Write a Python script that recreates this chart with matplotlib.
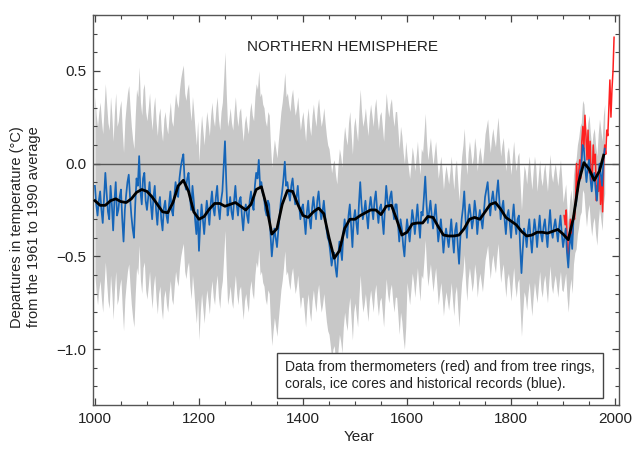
import numpy as np
import matplotlib
matplotlib.use('Agg')
import matplotlib.pyplot as plt
from matplotlib.patches import Rectangle
from matplotlib.ticker import MultipleLocator

plt.rcParams['font.family'] = ['Liberation Sans', 'DejaVu Sans']

# Proxy reconstruction (blue), read at 1000, 1005, ... 1980
proxy_years = np.arange(1000, 1981, 5)
proxy_values = [
    -0.12, -0.28, -0.15, -0.32, -0.05, -0.26, -0.12, -0.36, -0.10, -0.25,
    -0.14, -0.42, -0.17, -0.06, -0.28, -0.40, -0.08, 0.04, -0.22, -0.05,
    -0.25, -0.10, -0.30, -0.12, -0.33, -0.18, -0.36, -0.20, -0.32, -0.15,
    -0.28, -0.10, -0.18, -0.02, 0.05, -0.14, -0.05, -0.25, -0.20, -0.38,
    -0.47, -0.22, -0.38, -0.20, -0.33, -0.15, -0.28, -0.12, -0.30, -0.15,
    0.12, -0.28, -0.18, -0.30, -0.12, -0.28, -0.18, -0.36, -0.22, -0.32,
    -0.15, -0.25, -0.05, 0.02, -0.10, -0.18, -0.28, -0.22, -0.50, -0.35,
    -0.45, -0.28, -0.15, 0.01, -0.10, -0.20, -0.08, -0.22, -0.12, -0.30,
    -0.22, -0.38, -0.20, -0.35, -0.18, -0.30, -0.15, -0.30, -0.20, -0.35,
    -0.42, -0.55, -0.48, -0.61, -0.42, -0.52, -0.30, -0.40, -0.22, -0.45,
    -0.25, -0.38, -0.10, -0.30, -0.20, -0.35, -0.18, -0.30, -0.15, -0.32,
    -0.22, -0.38, -0.12, -0.25, -0.15, -0.30, -0.22, -0.42, -0.35, -0.50,
    -0.30, -0.42, -0.25, -0.38, -0.22, -0.40, -0.28, -0.07, -0.32, -0.20,
    -0.35, -0.22, -0.42, -0.30, -0.48, -0.35, -0.45, -0.30, -0.48, -0.32,
    -0.54, -0.30, -0.15, -0.40, -0.22, -0.35, -0.20, -0.38, -0.25, -0.35,
    -0.18, -0.10, -0.28, -0.15, -0.25, -0.09, -0.30, -0.20, -0.38, -0.25,
    -0.40, -0.22, -0.38, -0.28, -0.59, -0.35, -0.45, -0.30, -0.48, -0.30,
    -0.45, -0.28, -0.42, -0.30, -0.45, -0.25, -0.40, -0.30, -0.42, -0.28,
    -0.45, -0.35, -0.56, -0.38, -0.30, -0.22, -0.10, -0.02, 0.08, -0.10,
    0.02, -0.15, -0.05, -0.20, 0.00, -0.12, 0.08,
]
# Proxy reconstruction, read at 1002.5, 1007.5, ... 1977.5
proxy_mid_years = np.arange(1002.5, 1980, 5)
proxy_mid_values = [
    -0.22, -0.20, -0.25, -0.18, -0.16, -0.30, -0.22, -0.20, -0.28, -0.18,
    -0.30, -0.25, -0.10, -0.18, -0.35, -0.22, -0.12, -0.15, -0.08, -0.20,
    -0.18, -0.22, -0.18, -0.25, -0.22, -0.30, -0.24, -0.28, -0.22, -0.25,
    -0.18, -0.15, -0.08, 0.02, -0.10, -0.08, -0.18, -0.12, -0.30, -0.25,
    -0.32, -0.30, -0.28, -0.26, -0.22, -0.24, -0.18, -0.24, -0.20, -0.02,
    -0.10, -0.24, -0.26, -0.20, -0.22, -0.20, -0.28, -0.26, -0.28, -0.20,
    -0.22, -0.12, -0.08, -0.12, -0.16, -0.25, -0.20, -0.38, -0.42, -0.40,
    -0.36, -0.20, -0.08, -0.12, -0.16, -0.12, -0.16, -0.18, -0.22, -0.24,
    -0.30, -0.26, -0.30, -0.24, -0.25, -0.20, -0.24, -0.26, -0.28, -0.40,
    -0.48, -0.50, -0.56, -0.50, -0.46, -0.38, -0.36, -0.28, -0.34, -0.30,
    -0.32, -0.22, -0.22, -0.26, -0.28, -0.24, -0.24, -0.20, -0.25, -0.24,
    -0.30, -0.24, -0.20, -0.18, -0.24, -0.22, -0.32, -0.30, -0.44, -0.38,
    -0.36, -0.34, -0.30, -0.30, -0.32, -0.26, -0.18, -0.22, -0.26, -0.28,
    -0.28, -0.32, -0.36, -0.38, -0.40, -0.40, -0.38, -0.40, -0.36, -0.44,
    -0.40, -0.24, -0.30, -0.28, -0.28, -0.30, -0.26, -0.30, -0.30, -0.27,
    -0.14, -0.20, -0.20, -0.21, -0.16, -0.20, -0.24, -0.30, -0.28, -0.32,
    -0.30, -0.32, -0.30, -0.45, -0.46, -0.38, -0.36, -0.40, -0.38, -0.36,
    -0.36, -0.38, -0.34, -0.38, -0.34, -0.36, -0.34, -0.36, -0.34, -0.38,
    -0.40, -0.48, -0.44, -0.46, -0.24, -0.14, -0.04, 0.10, -0.02, -0.02,
    -0.08, -0.08, -0.14, -0.08, -0.06, 0.02,
]

# 40-year smoothed curve (black)
smooth_years = list(range(1000, 1980, 10)) + [1978]
smooth_values = [
    -0.20, -0.225, -0.225, -0.20, -0.19, -0.205, -0.21, -0.19, -0.155, -0.14,
    -0.15, -0.18, -0.22, -0.26, -0.265, -0.21, -0.12, -0.09, -0.15, -0.26,
    -0.30, -0.285, -0.245, -0.215, -0.215, -0.23, -0.22, -0.21, -0.23, -0.25,
    -0.22, -0.14, -0.125, -0.23, -0.38, -0.35, -0.22, -0.145, -0.15, -0.22,
    -0.28, -0.29, -0.26, -0.24, -0.27, -0.40, -0.51, -0.47, -0.35, -0.30,
    -0.30, -0.28, -0.265, -0.25, -0.25, -0.275, -0.23, -0.225, -0.30, -0.385,
    -0.37, -0.325, -0.32, -0.32, -0.285, -0.29, -0.34, -0.385, -0.39, -0.39,
    -0.385, -0.35, -0.30, -0.29, -0.30, -0.26, -0.22, -0.21, -0.245, -0.29,
    -0.31, -0.33, -0.365, -0.39, -0.385, -0.37, -0.37, -0.375, -0.365, -0.355,
    -0.38, -0.41, -0.29, -0.10, 0.005, -0.03, -0.09, -0.04,
    0.045,
]

# Uncertainty half-width of the grey band by period
unc_start = [1000, 1400, 1600, 1850, 1900]
unc_half = [0.48, 0.50, 0.34, 0.30, 0.24]

# Thermometer record (red), every 2 years 1902-1998
instr_years = np.arange(1902, 1999, 2)
instr_values = [
    -0.28, -0.33, -0.25, -0.45, -0.52, -0.40, -0.30, -0.42, -0.38, -0.28,
    -0.30, -0.20, 0.00, -0.15, -0.05, 0.02, -0.08, 0.12, 0.20, 0.08,
    0.26, 0.15, 0.02, 0.18, -0.05, 0.12, -0.10, -0.08, 0.10, 0.00,
    0.05, -0.20, -0.12, -0.15, -0.02, -0.22, -0.08, -0.26, 0.00, 0.10,
    0.05, 0.18, 0.15, 0.30, 0.45, 0.25, 0.40, 0.50, 0.68,
]

title = "NORTHERN HEMISPHERE"
note = ("Data from thermometers (red) and from tree rings,\n"
        "corals, ice cores and historical records (blue).")

yrs = np.concatenate([proxy_years, proxy_mid_years])
vals = np.concatenate([proxy_values, proxy_mid_values])
order = np.argsort(yrs)
yrs, vals = yrs[order], vals[order]
idx = np.searchsorted(unc_start, yrs, side='right') - 1
half = np.array(unc_half)[idx]

fig = plt.figure(figsize=(6.4, 4.69), dpi=100)
ax = fig.add_axes([0.1459, 0.1365, 0.8217, 0.8316])

ax.fill_between(yrs, vals - half, vals + half, color='#c8c8c8',
                linewidth=0, zorder=1)
ax.axhline(0, color='#555555', lw=1.0, zorder=2)
ax.plot(instr_years, instr_values, color='#ff2020', lw=1.1, zorder=3)
ax.plot(yrs, vals, color='#1565b8', lw=1.25, zorder=4)
ax.plot(smooth_years, smooth_values, color='black', lw=2.0, zorder=5)

ax.set_xlim(997, 2008)
ax.set_ylim(-1.3, 0.8)
ax.set_xticks([1000, 1200, 1400, 1600, 1800, 2000])
ax.xaxis.set_minor_locator(MultipleLocator(50))
ax.set_yticks([0.5, 0.0, -0.5, -1.0])
ax.set_yticklabels(['0.5', '0.0', '\u22120.5', '\u22121.0'])
ax.yaxis.set_minor_locator(MultipleLocator(0.1))
ax.tick_params(which='both', direction='in', top=True, right=True,
               color='#444444', labelsize=11, labelcolor='#222222')
ax.tick_params(which='major', length=5, width=0.9, pad=5)
ax.tick_params(which='minor', length=3, width=0.8)
for s in ax.spines.values():
    s.set_color('#555555')
    s.set_linewidth(1.0)

ax.text(1475, 0.625, title, ha='center', va='center', fontsize=11,
        color='#222222', zorder=6)

ax.add_patch(Rectangle((0.349, 0.017), 0.62, 0.116, transform=ax.transAxes,
                       facecolor='white', edgecolor='#444444', lw=1.0, zorder=6))
ax.text(0.364, 0.075, note, transform=ax.transAxes, ha='left', va='center',
        fontsize=10, linespacing=1.3, color='#222222', zorder=7)

fig.text(0.561, 0.068, 'Year', ha='center', va='center', fontsize=11,
         color='#222222')
fig.text(0.040, 0.516, 'Departures in temperature (\u00b0C)\nfrom the 1961 to 1990 average',
         rotation=90, ha='center', va='center', fontsize=10.5,
         linespacing=1.25, color='#222222')

fig.savefig('out.png', dpi=100)
